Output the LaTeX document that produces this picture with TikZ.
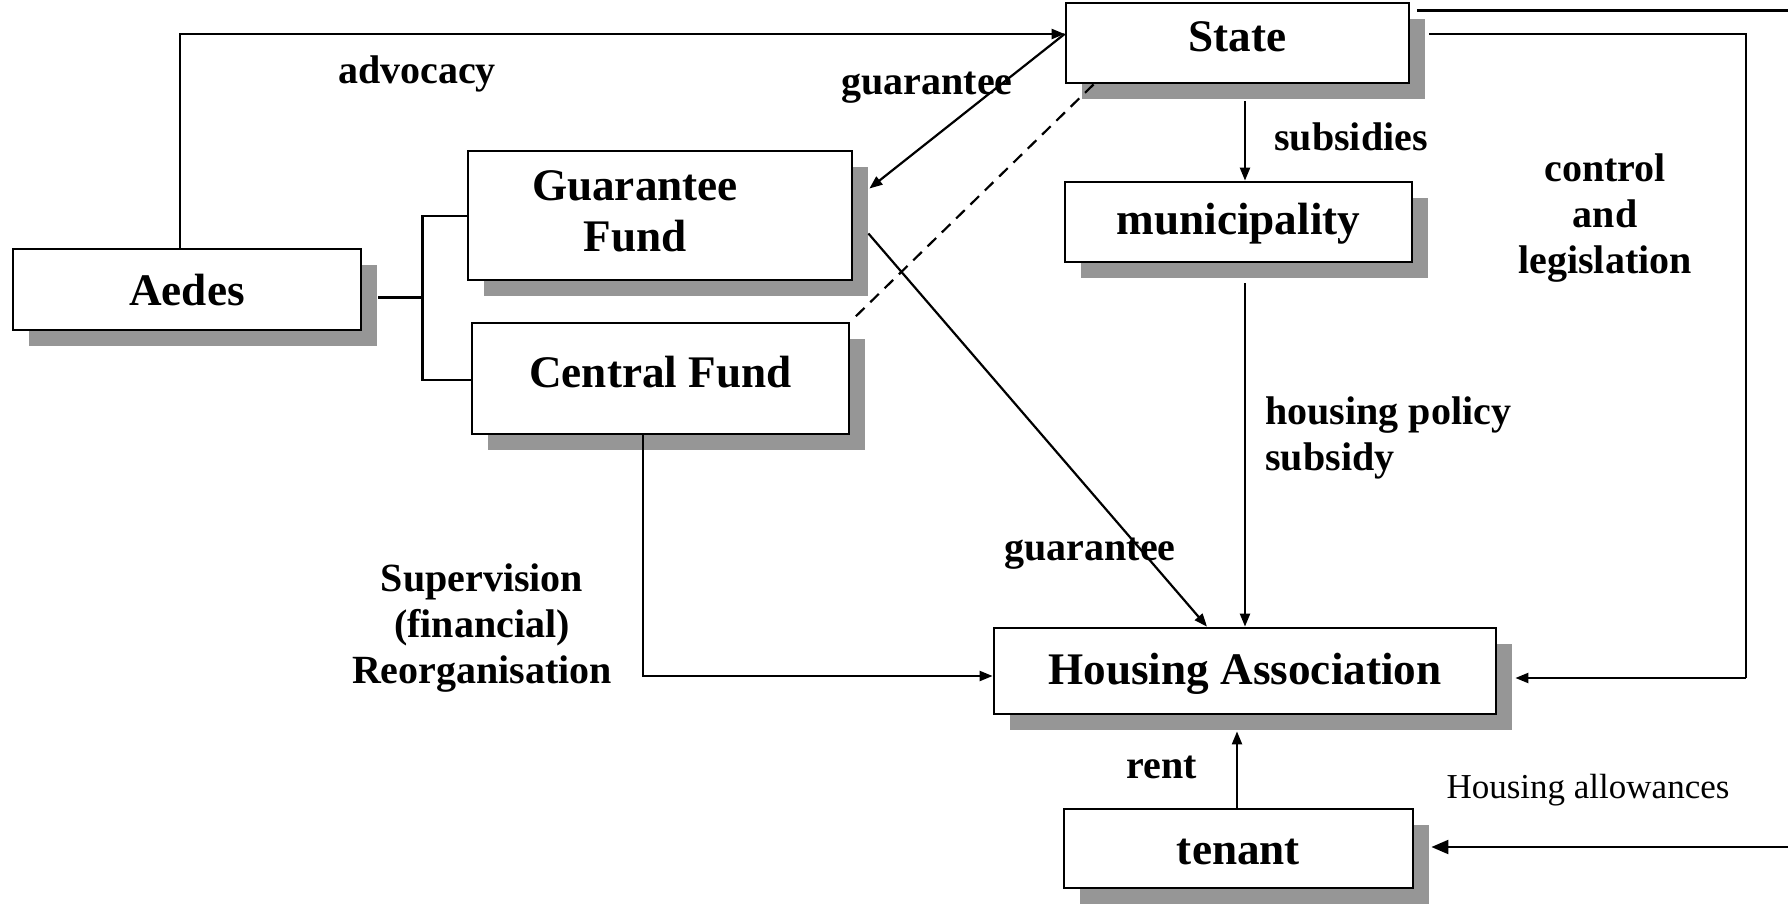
\documentclass[tikz,border=0pt]{standalone}
\usepackage{fontspec}
\setmainfont{Liberation Serif}
\usepackage{xcolor}
\usepackage{tikz}
\usetikzlibrary{arrows.meta,calc,shadows}
\definecolor{shadowgray}{RGB}{150,150,150}
\tikzset{
  box/.style={draw,line width=1.4pt,fill=white,inner sep=0pt,align=center,
    text height=#1,text depth=0pt,
    font=\bfseries\fontsize{22.6}{25.5}\selectfont,
    drop shadow={shadow xshift=8pt,shadow yshift=-8pt,fill=shadowgray,opacity=1}},
  box/.default=14pt,
  lbl/.style={align=center,inner sep=0pt,font=\bfseries\fontsize{20}{23}\selectfont},
  arr/.style={line width=1.1pt,-{Triangle[length=6.5pt,width=5pt]}},
  ln/.style={line width=1.1pt}
}

\begin{document}
\begin{tikzpicture}[x=0.5pt,y=-0.5pt]
    \useasboundingbox (0,0) rectangle (1788,904);
    % boxes
    \node[box=9pt,minimum width=171.5pt,minimum height=40pt] (State) at (1237.5,43) {State};
    \node[box=16pt,minimum width=174pt,minimum height=40.5pt] (Aedes) at (187,289.5) {Aedes};
    \node[box,text height=,text depth=4.6pt,minimum width=192pt,minimum height=64.5pt] (GF) at (660,215.5)
      {\hspace*{-25pt}Guarantee\\\hspace*{-25pt}Fund};
    \node[box=9.4pt,minimum width=188.5pt,minimum height=55.5pt] (CF) at (660.5,378.5) {Central Fund};
    \node[box=12.6pt,minimum width=173.5pt,minimum height=40pt] (muni) at (1238.5,222) {municipality};
    \node[box=13.8pt,minimum width=251pt,minimum height=43pt] (HA) at (1245,671) {Housing Association};
    \node[box=16.4pt,minimum width=174.5pt,minimum height=39.5pt] (tenant) at (1238.5,848.5) {tenant};
    % free ends at the page edge
    \coordinate (topOut) at ($(State.north east)+(7,9)$);
    \coordinate (edgeTop) at (topOut -| 1788,0);
    \coordinate (edgeLow) at (1788,847);
    \coordinate (ctrlTurn) at (1746,678);
    \coordinate (advIn) at ($(State.west)+(0,-9)$);
    % Aedes to the funds
    \draw[ln] ($(Aedes.east)+(16,8)$) -- ($(Aedes.east)+(60,8)$) coordinate (fork);
    \draw[ln] (GF.west |- 0,216) -| (fork) |- (CF.west |- 0,380);
    % connectors
    \draw[arr] ($(Aedes.north)+(-7,0)$) |- (advIn);
    \draw[arr] (advIn) -- ($(GF.east)+(16,-27)$);
    \draw[ln,dash pattern=on 6pt off 4pt] ($(State.south west)+(29,0)$) -- (CF.north east);
    \draw[arr] ($(GF.east)+(15,18)$) -- ($(HA.north)+(-38,0)$);
    \draw[arr] ($(State.south)+(7.5,17)$) -- ($(muni.north)+(6.5,0)$);
    \draw[arr] ($(muni.south)+(6.5,20)$) -- (HA.north);
    \draw[arr] ($(CF.south)+(-17.5,0)$) |- ($(HA.west)+(0,5)$);
    \draw[ln] ($(State.east)+(19,-9)$) -| (ctrlTurn);
    \draw[arr] (ctrlTurn) -- ($(HA.east)+(18,7)$);
    \draw[ln] (topOut) -- (edgeTop);
    \draw[line width=1.1pt,-{Triangle[length=8.5pt,width=7pt]}] (edgeLow) -- ($(tenant.east)+(17,-1.5)$);
    \draw[arr] ($(tenant.north)+(-1.5,0)$) -- ($(HA.south)+(-8,16)$);
    % labels
    \node[lbl] (advLbl) at (417,74) {advocacy};
    \node[lbl] (guarLbl) at (927,88) {guarantee};
    \node[lbl] (guarLblB) at (1090,554) {guarantee};
    \node[lbl] (subsLbl) at (1351,137) {subsidies};
    \node[lbl] (ctrlLbl) at (1605,218) {control\\and\\legislation};
    \node[lbl,align=left,anchor=west] (polLbl) at (1265,438) {housing policy\\subsidy};
    \node[lbl] (supLbl) at (482,628) {Supervision\\(financial)\\Reorganisation};
    \node[lbl] (rentLbl) at (1162,767) {rent};
    \node[inner sep=0pt,font=\fontsize{17.5}{21}\selectfont] (allowLbl) at (1588,790) {Housing allowances};
  \end{tikzpicture}
\end{document}
